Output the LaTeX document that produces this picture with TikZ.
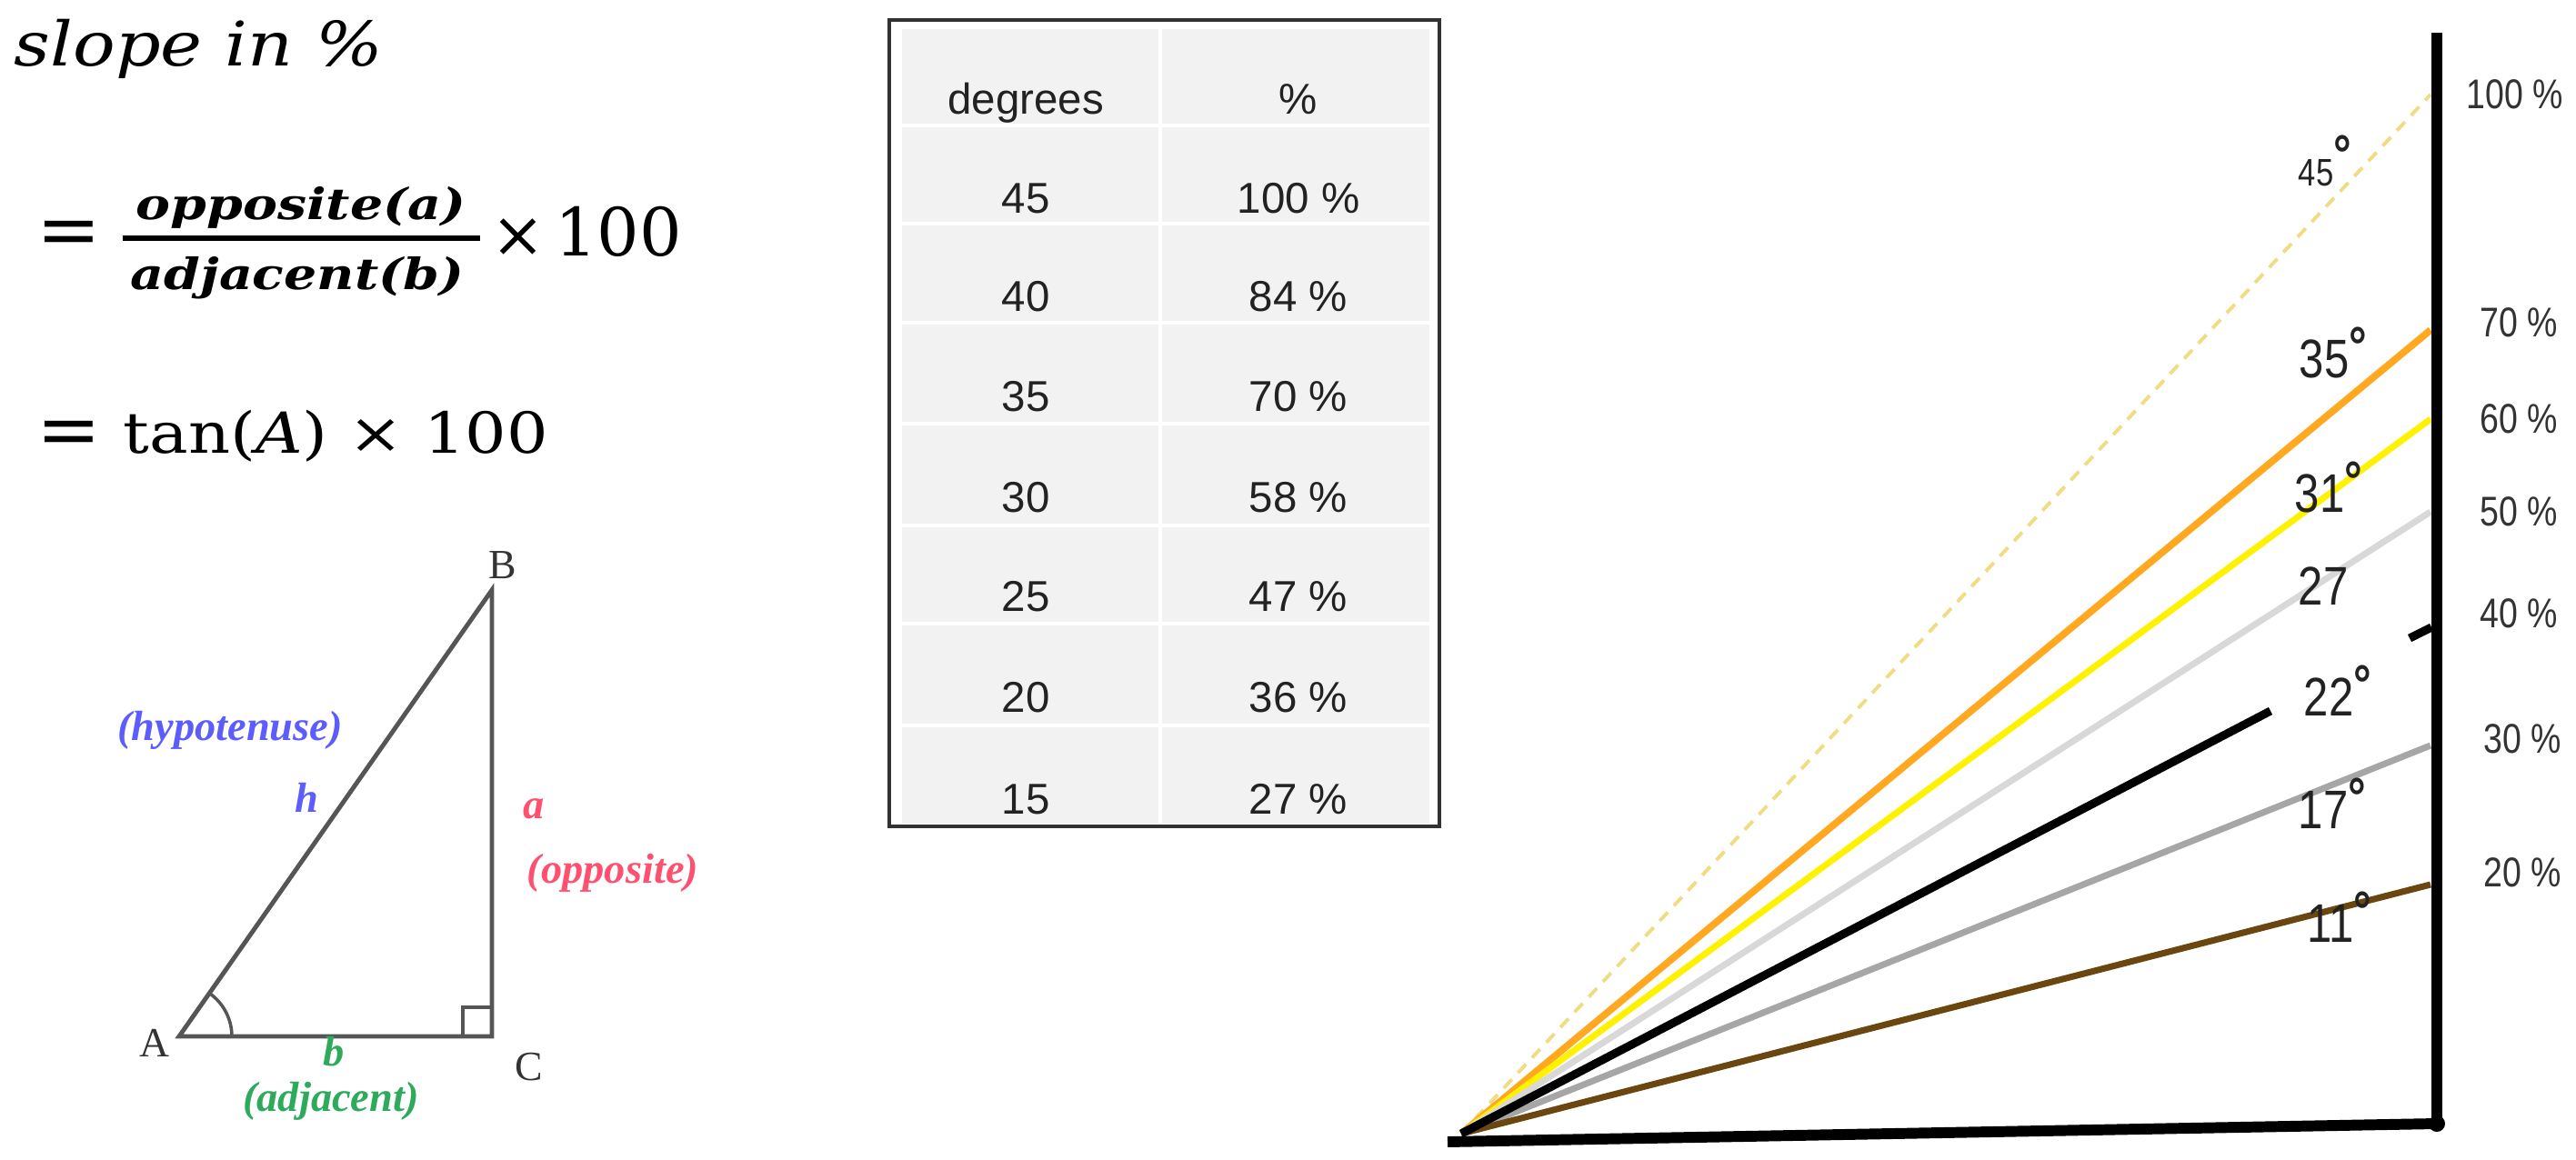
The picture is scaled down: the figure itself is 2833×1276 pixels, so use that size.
\documentclass[tikz,border=0pt]{standalone}
\usepackage{fontspec}
\newfontfamily\arialf{Liberation Sans}
\newfontfamily\narrowf[FakeStretch=0.82]{Liberation Sans}
\newfontfamily\timesf{Liberation Serif}
\newfontfamily\camf{DejaVu Serif}
\usetikzlibrary{calc}
\definecolor{trigray}{RGB}{85,85,85}
\definecolor{hypblue}{RGB}{92,92,255}
\definecolor{oppred}{RGB}{255,80,112}
\definecolor{adjgreen}{RGB}{46,170,92}
\definecolor{cellgray}{RGB}{242,242,242}
\definecolor{framegray}{RGB}{50,50,50}
\definecolor{txtdark}{RGB}{34,34,34}
\definecolor{rayorange}{RGB}{255,168,32}
\definecolor{rayyellow}{RGB}{255,242,0}
\definecolor{raylight}{RGB}{216,216,216}
\definecolor{raygray}{RGB}{166,166,166}
\definecolor{raybrown}{RGB}{107,71,16}
\definecolor{raydash}{RGB}{240,220,130}
\begin{document}
\begin{tikzpicture}[x=0.01cm,y=-0.01cm,
  cam/.style={inner sep=0pt},
  tri/.style={draw=trigray,line width=1.4pt},
  trilabel/.style={inner sep=0pt,text=black!80,font=\timesf\fontsize{13}{15}\selectfont},
  sidelabel/.style={inner sep=0pt,font=\timesf\bfseries\itshape\fontsize{13.2}{15}\selectfont},
  cell/.style={inner sep=0pt,anchor=base,text=txtdark,font=\arialf\fontsize{13.5}{16}\selectfont},
  sep/.style={draw=white,line width=1.2pt},
  pct/.style={inner sep=0pt,text=black!80,font=\narrowf\fontsize{13}{15}\selectfont},
  ang/.style={inner sep=0pt,anchor=base,text=txtdark,font=\narrowf\fontsize{17}{19}\selectfont},
  ray/.style={line width=2pt},
  axis/.style={line width=3.2pt,black}
]
\useasboundingbox (0,0) rectangle (2833,1276);

% ---------- formulas ----------
\node[cam,anchor=base west,xscale=1.15,font=\camf\fontsize{19.2}{23}\selectfont\itshape] (title) at (15,73) {slope in \%};
\node[cam,font=\camf\fontsize{24}{28}\selectfont] (eqA) at (76,262) {=};
\node[cam,xscale=1.2,font=\camf\fontsize{13.5}{16}\selectfont\bfseries\itshape] (num) at (331,228) {opposite(a)};
\node[cam,xscale=1.2,font=\camf\fontsize{13.5}{16}\selectfont\bfseries\itshape] (den) at (327,306) {adjacent(b)};
\draw[line width=1.7pt] (135,262) -- (528,262);
\node[cam,font=\camf\fontsize{20}{24}\selectfont] (timesA) at (570,262) {×};
\node[cam,font=\camf\fontsize{20.8}{24}\selectfont] (hundA) at (680,255) {100};
\node[cam,font=\camf\fontsize{24}{28}\selectfont] (eqB) at (76,482) {=};
\node[cam,anchor=base west,xscale=1.15,font=\camf\fontsize{17.7}{21}\selectfont] (tanline) at (135,498) {tan(\textit{A}) × 100};

% ---------- triangle ----------
\coordinate (A) at (197,1140);
\coordinate (B) at (541,649);
\coordinate (C) at (541,1140);
\draw[tri] (A) -- (B) -- (C) -- cycle;
\draw[tri,line width=1pt] ($(C)+(-32,0)$) -- ++(0,-32) -- ++(32,0);
\draw[tri,line width=1pt] ($(A)+(58,0)$) arc[start angle=0,end angle=-55,radius=58];
\node[trilabel] (lB) at (553,622) {B};
\node[trilabel] (lA) at (170,1147) {A};
\node[trilabel] (lC) at (582,1174) {C};
\node[sidelabel,text=hypblue] (hyp) at (253,803) {(hypotenuse)};
\node[sidelabel,text=hypblue] (hh) at (337,877) {h};
\node[sidelabel,text=oppred] (aa) at (587,890) {a};
\node[sidelabel,text=oppred] (opp) at (674,960) {(opposite)};
\node[sidelabel,text=adjgreen] (bb) at (367,1157) {b};
\node[sidelabel,text=adjgreen] (adj) at (364,1211) {(adjacent)};

% ---------- table ----------
\fill[cellgray] (992,32) rectangle (1572,906);
\draw[sep] (1276,32) -- (1276,906);
\foreach \yy in {138,246,355,466,578,686,798}{\draw[sep] (992,\yy) -- (1572,\yy);}
\draw[draw=framegray,line width=1.3pt] (978,22) rectangle (1583,909);
\node[cell] (hdeg) at (1128,126) {degrees};
\node[cell] (hpct) at (1428,126) {\%};
\foreach \d/\p/\yy [count=\i] in {45/100/235,40/84/343,35/70/452,30/58/563,25/47/672,20/36/783,15/27/895}{
  \node[cell] (d\i) at (1128,\yy) {\d};
  \node[cell] (p\i) at (1428,\yy) {\p\ \%};
}

% ---------- slope graph ----------
\coordinate (O) at (1607,1247);
\coordinate (E45) at (2673,104);
\coordinate (E35) at (2673,363);
\coordinate (E31) at (2673,461);
\coordinate (E27) at (2673,563);
\coordinate (E22) at (2497,782);
\coordinate (S22a) at (2650,702);
\coordinate (S22b) at (2674,690);
\coordinate (E17) at (2673,820);
\coordinate (E11) at (2673,973);
\draw[raydash,line width=1.1pt,dash pattern=on 3.7pt off 2.8pt] (O) -- (E45);
\draw[ray,rayorange,line width=2.2pt] (O) -- (E35);
\draw[ray,rayyellow] (O) -- (E31);
\draw[ray,raylight] (O) -- (E27);
\draw[ray,raygray] (O) -- (E17);
\draw[ray,raybrown] (O) -- (E11);
\draw[ray,black,line width=2.6pt] (O) -- (E22);
\draw[ray,black,line width=2.6pt] (S22a) -- (S22b);

\coordinate (Atop) at (2680,36);
\coordinate (Abot) at (2680,1236);
\coordinate (Bleft) at (1592,1256);
\draw[axis] (Atop) -- (Abot);
\draw[axis,line width=3.4pt] (Bleft) -- (Abot);
\fill (Abot) circle (9);

% angle labels
\node[ang] (a45) at (2547,205) {{\fontsize{12}{14}\selectfont 45}\rlap{\bfseries\raisebox{0.25em}{°}}};
\node[ang] (a35) at (2556,415) {35\rlap{\bfseries\raisebox{0.22em}{°}}};
\node[ang] (a31) at (2551,563) {31\rlap{\bfseries\raisebox{0.22em}{°}}};
\node[ang] (a27) at (2555,665) {27};
\node[ang] (a22) at (2561,787) {22\rlap{\bfseries\raisebox{0.22em}{°}}};
\node[ang] (a17) at (2555,911) {17\rlap{\bfseries\raisebox{0.22em}{°}}};
\node[ang] (a11) at (2563,1036) {11\rlap{\bfseries\raisebox{0.22em}{°}}};

% percent labels
\node[pct] (q100) at (2766,104) {100 \%};
\node[pct] (q70) at (2770,355) {70 \%};
\node[pct] (q60) at (2770,461) {60 \%};
\node[pct] (q50) at (2770,563) {50 \%};
\node[pct] (q40) at (2770,675) {40 \%};
\node[pct] (q30) at (2774,813) {30 \%};
\node[pct] (q20) at (2774,960) {20 \%};
\end{tikzpicture}
\end{document}
